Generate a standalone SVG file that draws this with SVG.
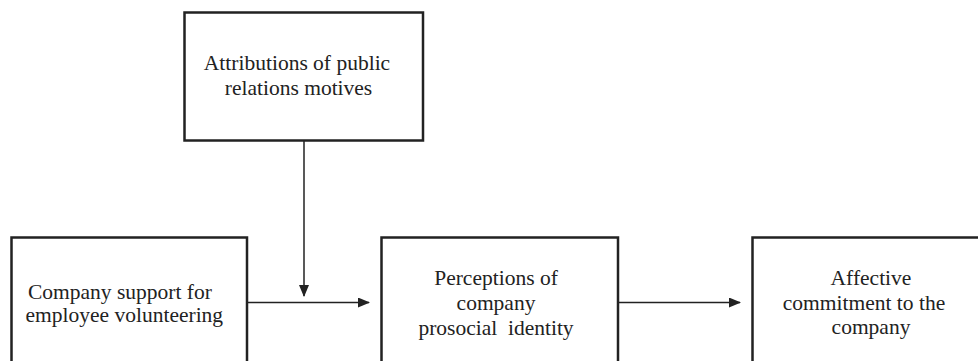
<svg xmlns="http://www.w3.org/2000/svg" width="978" height="361" viewBox="0 0 978 361">
<defs>
<style>
.box{fill:#fff;stroke:#222;stroke-width:2.5}
.t{font-size:21.5px;fill:#222}
.c{text-anchor:middle}
.ln{stroke:#222;stroke-width:1.5;fill:none}
</style>
<marker id="ah" markerWidth="12" markerHeight="10" refX="11" refY="5" orient="auto" markerUnits="userSpaceOnUse">
<path d="M0,0 L12,5 L0,10 Z" fill="#222"/>
</marker>
</defs>
<rect width="978" height="361" fill="#fff"/>
<g id="connectors">
<line class="ln" x1="247" y1="302.5" x2="369" y2="302.5" marker-end="url(#ah)"/>
<line class="ln" x1="618" y1="302.5" x2="740" y2="302.5" marker-end="url(#ah)"/>
<line class="ln" x1="304" y1="141" x2="304" y2="296" marker-end="url(#ah)"/>
</g>
<g font-family="'Liberation Serif', 'Times New Roman', Tinos, 'DejaVu Serif', serif">
<g id="attributions">
<rect class="box" x="184.5" y="12.5" width="238.5" height="128"/>
<text class="t c" x="297" y="70">Attributions of public</text>
<text class="t c" x="298.5" y="95">relations motives</text>
</g>
<g id="support">
<rect class="box" x="11.5" y="237.5" width="235.5" height="140"/>
<text class="t" x="28" y="299">Company support for</text>
<text class="t" x="25.5" y="321.5">employee volunteering</text>
</g>
<g id="perceptions">
<rect class="box" x="381.5" y="237.5" width="236.5" height="140"/>
<text class="t c" x="496" y="285">Perceptions of</text>
<text class="t c" x="496" y="310">company</text>
<text class="t c" x="496" y="335" xml:space="preserve">prosocial  identity</text>
</g>
<g id="commitment">
<rect class="box" x="752.5" y="237.5" width="280" height="140"/>
<text class="t c" x="871" y="285">Affective</text>
<text class="t c" x="864" y="310">commitment to the</text>
<text class="t c" x="871" y="334">company</text>
</g>
</g>
</svg>
